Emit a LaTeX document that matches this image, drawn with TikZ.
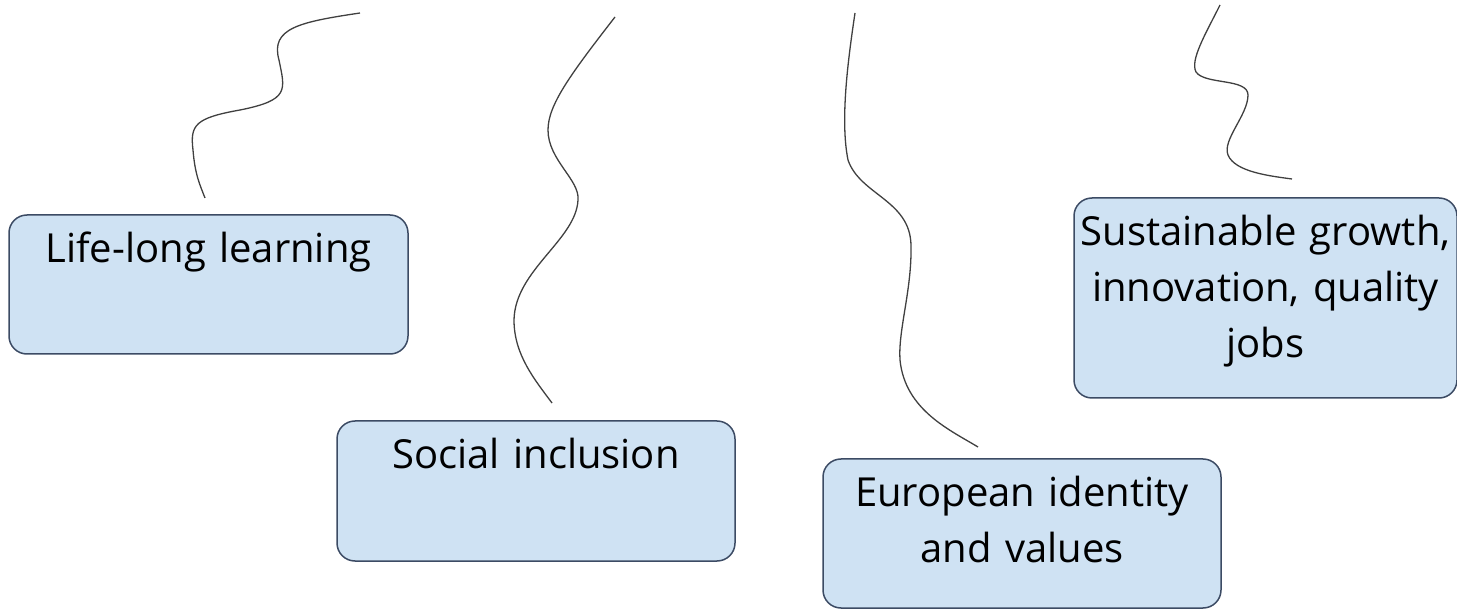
\documentclass[tikz,border=0pt]{standalone}
\usepackage{fontspec}
\setmainfont{Open Sans}[Ligatures=NoCommon]
\usetikzlibrary{positioning,calc}
\definecolor{boxFill}{HTML}{CFE2F3}
\definecolor{boxLine}{HTML}{3C4B64}
\definecolor{waveColor}{HTML}{404040}
\tikzset{
	goal/.style={draw=boxLine, fill=boxFill, line width=1.5pt, rounded corners=18pt,
		inner sep=0, outer sep=0, align=center, anchor=north west, text height=47.5pt,
		font=\fontsize{40}{56}\selectfont},
	wave/.style={draw=waveColor, line width=1.3pt}
}
\begin{document}
\begin{tikzpicture}[x=1pt,y=-1pt]
				\useasboundingbox (0,0) rectangle (1457,609);
				\node[goal, text width=399pt, text depth=91.5pt] (life) at (9,215) {Life-long learning};
				\node[goal, text width=398pt, text depth=92.5pt] (social) at (337,421) {Social inclusion};
				\node[goal, text width=398pt, text depth=101.5pt] (euro) at (823,459) {European identity\\and values};
				\node[goal, text width=383pt, text depth=152.5pt] (growth) at (1074,198) {Sustainable growth,\\innovation, quality\\jobs};
				
				\coordinate (lifetop) at (360,13);
				\coordinate (socialtop) at (615,17);
				\coordinate (eurotop) at (855,13);
				\coordinate (growthtop) at (1220,5);
				\coordinate (lifeend) at ($(life.north)+(-3.5,-17)$);
				\coordinate (socialend) at ($(social.north)+(16,-18)$);
				\coordinate (euroend) at ($(euro.north)+(-44,-12)$);
				\coordinate (growthend) at ($(growth.north)+(26.5,-19)$);
				
				\path[wave] (lifetop) .. controls (300,22) and (270,28) .. (279,60)
					.. controls (285,90) and (290,100) .. (240,110)
					.. controls (195,118) and (190,125) .. (193,150)
					.. controls (195,175) and (200,185) .. (lifeend);
				\path[wave] (socialtop) .. controls (570,75) and (548,105) .. (548,130)
					.. controls (548,160) and (580,180) .. (578,200)
					.. controls (576,240) and (515,270) .. (514,320)
					.. controls (514,355) and (535,380) .. (socialend);
				\path[wave] (eurotop) .. controls (848,60) and (840,120) .. (848,160)
					.. controls (860,195) and (910,200) .. (911,245)
					.. controls (912,290) and (898,330) .. (900,360)
					.. controls (905,410) and (950,430) .. (euroend);
				\path[wave] (growthtop) .. controls (1205,35) and (1190,60) .. (1196,72)
					.. controls (1205,85) and (1248,78) .. (1248,95)
					.. controls (1248,115) and (1222,140) .. (1228,155)
					.. controls (1235,172) and (1270,176) .. (growthend);
			\end{tikzpicture}
\end{document}
